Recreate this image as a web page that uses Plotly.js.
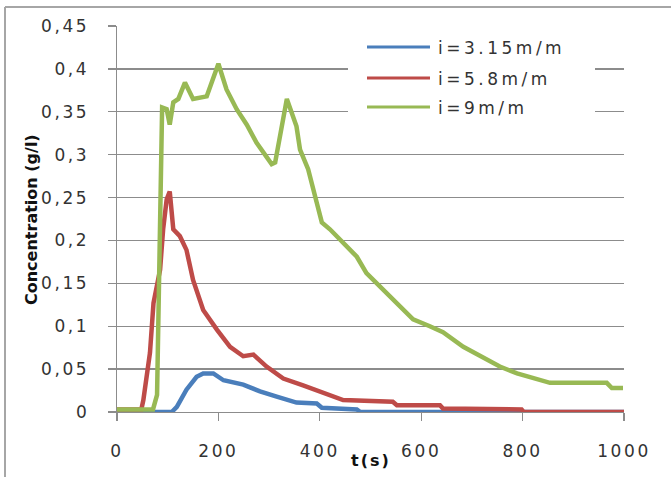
<!DOCTYPE html>
<html>
<head>
<meta charset="utf-8">
<script src="https://cdn.plot.ly/plotly-3.0.1.min.js"></script>
<style>
  html, body { margin: 0; padding: 0; background: #fff; }
  #chart { width: 671px; height: 477px; }
  .xtick text, .ytick text { letter-spacing: 2.6px; }
</style>
</head>
<body>
<div id="chart"></div>
<script>
// ---- data ----
const seriesNames = ["i=3.15m/m", "i=5.8m/m", "i=9m/m"];
const seriesColors = ["#4A7EBB", "#BE4B48", "#98B954"];

const tBlue = [0, 108, 118, 137, 157, 170, 190, 210, 249, 282, 315, 354, 394, 404, 473, 480, 1000];
const cBlue = [0, 0, 0.006, 0.026, 0.041, 0.045, 0.045, 0.037, 0.032, 0.024, 0.018, 0.011, 0.010, 0.005, 0.003, 0, 0];

const tRed = [0, 48, 52, 65, 72, 85, 91, 98, 104, 111, 124, 137, 150, 170, 197, 223, 249, 269, 295, 328, 367, 406, 446, 544, 552, 637, 643, 798, 802, 1000];
const cRed = [0.003, 0.003, 0.014, 0.069, 0.127, 0.166, 0.213, 0.248, 0.257, 0.213, 0.205, 0.189, 0.154, 0.119, 0.096, 0.076, 0.065, 0.067, 0.053, 0.039, 0.031, 0.022, 0.014, 0.012, 0.008, 0.008, 0.004, 0.003, 0, 0];

const tGreen = [0, 71, 79, 83, 87, 89, 98, 104, 111, 121, 134, 150, 177, 200, 216, 236, 256, 275, 305, 312, 335, 354, 361, 377, 394, 404, 420, 446, 473, 492, 532, 558, 584, 617, 643, 683, 722, 755, 789, 820, 854, 893, 966, 976, 998];
const cGreen = [0.003, 0.003, 0.02, 0.15, 0.30, 0.355, 0.353, 0.335, 0.361, 0.365, 0.384, 0.365, 0.368, 0.406, 0.376, 0.353, 0.335, 0.314, 0.289, 0.291, 0.365, 0.333, 0.306, 0.283, 0.244, 0.221, 0.213, 0.197, 0.181, 0.162, 0.139, 0.123, 0.108, 0.100, 0.093, 0.076, 0.063, 0.053, 0.045, 0.040, 0.034, 0.034, 0.034, 0.028, 0.028];

const xTickVals = [0, 200, 400, 600, 800, 1000];
const xTickText = ["0", "200", "400", "600", "800", "1000"];
const yTickVals = [0, 0.05, 0.1, 0.15, 0.2, 0.25, 0.3, 0.35, 0.4, 0.45];
const yTickText = ["0", "0,05", "0,1", "0,15", "0,2", "0,25", "0,3", "0,35", "0,4", "0,45"];

const xTitle = "t(s)";
const yTitle = "Concentration (g/l)";

// ---- layout helpers (pixel -> paper) ----
const W = 671, H = 477;
const M = { l: 117, r: 47, t: 26, b: 65 };
const PW = W - M.l - M.r, PH = H - M.t - M.b;
const px = v => (v - M.l) / PW;
const py = v => (H - M.b - v) / PH;
const spaced = (s, ls) => '<span style="letter-spacing:' + ls + 'px">' + s + '</span>';

const xs = [tBlue, tRed, tGreen];
const ys = [cBlue, cRed, cGreen];

const traces = xs.map((x, i) => ({
  type: "scatter",
  mode: "lines",
  x: x,
  y: ys[i],
  name: seriesNames[i],
  line: { color: seriesColors[i], width: 4.5 },
  showlegend: false,
  hoverinfo: "skip"
}));

const gridColor = "#8c8c8c";
const textColor = "#333333";
const font = { family: "DejaVu Sans", size: 17, color: textColor };

const shapes = [
  // outer chart border (top & left)
  { type: "line", xref: "paper", yref: "paper", x0: px(5), x1: px(671), y0: py(7), y1: py(7), line: { color: "#a6a6a6", width: 2 }, layer: "above" },
  { type: "line", xref: "paper", yref: "paper", x0: px(5), x1: px(5), y0: py(7), y1: py(477), line: { color: "#a6a6a6", width: 2 }, layer: "above" },
  // legend box background
  { type: "rect", xref: "paper", yref: "paper", x0: px(348), x1: px(595), y0: py(34), y1: py(124), fillcolor: "#ffffff", line: { width: 0 }, layer: "above" }
];
const annotations = [];
const legendRows = [47, 78, 107];
seriesNames.forEach((n, i) => {
  shapes.push({ type: "line", xref: "paper", yref: "paper", x0: px(367), x1: px(430), y0: py(legendRows[i]), y1: py(legendRows[i]), line: { color: seriesColors[i], width: 3 }, layer: "above" });
  annotations.push({ xref: "paper", yref: "paper", x: px(436), y: py(legendRows[i] + 1), xanchor: "left", yanchor: "middle", text: spaced(n, 3.5), showarrow: false, font: { family: "DejaVu Sans", size: 17, color: textColor } });
});
annotations.push({ xref: "paper", yref: "paper", x: px(31), y: py(220), xanchor: "center", yanchor: "middle", textangle: -90, text: yTitle, showarrow: false, font: { family: "DejaVu Sans", size: 16, color: "#111", weight: "bold" } });
annotations.push({ xref: "paper", yref: "paper", x: px(371), y: py(460), xanchor: "center", yanchor: "middle", text: spaced(xTitle, 2), showarrow: false, font: { family: "DejaVu Sans", size: 16, color: "#111", weight: "bold" } });

const layout = {
  width: W, height: H,
  margin: M,
  paper_bgcolor: "#ffffff",
  plot_bgcolor: "#ffffff",
  showlegend: false,
  font: font,
  xaxis: {
    range: [0, 1000], tickmode: "array", tickvals: xTickVals, ticktext: xTickText,
    showgrid: false, zeroline: false, showline: true, linecolor: gridColor, linewidth: 1.3,
    ticks: "outside", ticklen: 8, tickcolor: gridColor, tickwidth: 1.3,
    ticklabelstandoff: 15, automargin: false, fixedrange: true, tickfont: font
  },
  yaxis: {
    range: [0, 0.45], tickmode: "array", tickvals: yTickVals, ticktext: yTickText,
    showgrid: true, gridcolor: gridColor, gridwidth: 1.3, zeroline: false,
    showline: true, linecolor: gridColor, linewidth: 1.3,
    ticks: "outside", ticklen: 8, tickcolor: gridColor, tickwidth: 1.3,
    ticklabelstandoff: 15, automargin: false, fixedrange: true, tickfont: font
  },
  shapes: shapes,
  annotations: annotations
};

Plotly.newPlot("chart", traces, layout, { staticPlot: true, displayModeBar: false });
</script>
</body>
</html>
